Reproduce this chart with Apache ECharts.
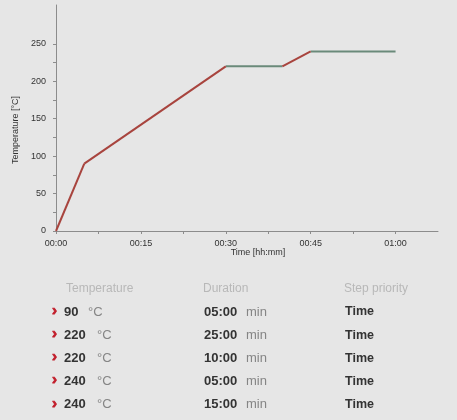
<!DOCTYPE html>
<html>
<head>
<meta charset="utf-8">
<script src="https://cdn.jsdelivr.net/npm/echarts@6/dist/echarts.min.js"></script>
<style>
html,body{margin:0;padding:0;background:#e6e6e6;}
#c{width:457px;height:420px;}
</style>
</head>
<body>
<div id="c"></div>
<script>
// Profile points (minutes, °C)
const times = [0, 5, 30, 40, 45, 60];
const temps = [0, 90, 220, 220, 240, 240];
// Axis ticks
const xTickValues = [0, 7.5, 15, 22.5, 30, 37.5, 45, 52.5, 60];
const xLabelValues = [0, 15, 30, 45, 60];
const xLabelTexts = ['00:00', '00:15', '00:30', '00:45', '01:00'];
const yTickValues = [0, 25, 50, 75, 100, 125, 150, 175, 200, 225, 250];
const yLabelValues = [0, 50, 100, 150, 200, 250];
// Step table
const headers = ['Temperature', 'Duration', 'Step priority'];
const stepTemps = ['90', '220', '220', '240', '240'];
const stepDurations = ['05:00', '25:00', '10:00', '05:00', '15:00'];
const stepPriority = ['Time', 'Time', 'Time', 'Time', 'Time'];

const RAMP = '#a8443e', HOLD = '#6a8a7a';
const FONT = '"Liberation Sans", Arial, sans-serif';

const series = [];
for (let i = 0; i < times.length - 1; i++) {
  const ramp = temps[i] !== temps[i + 1];
  series.push({
    type: 'line', symbol: 'none', animation: false,
    data: [[times[i], temps[i]], [times[i + 1], temps[i + 1]]],
    lineStyle: { color: ramp ? RAMP : HOLD, width: 2 },
    z: ramp ? 3 : 2
  });
}

const graphic = [];
const headerX = [66, 203, 344];
headers.forEach((h, i) => graphic.push({
  type: 'text', left: headerX[i], top: 283,
  style: { text: h, font: '12px ' + FONT, fill: '#b8b8b8' }
}));
const rowY0 = 312, rowStep = 23.1;
stepTemps.forEach((t, i) => {
  const y = rowY0 + i * rowStep;
  graphic.push({ type: 'text', x: 52, y: y - 1, style: { text: '›', font: 'bold 15px ' + FONT, fill: '#c21f2c', verticalAlign: 'middle', stroke: '#c21f2c', lineWidth: 0.8 } });
  graphic.push({ type: 'text', x: 64, y: y, style: { text: t, font: 'bold 13px ' + FONT, fill: '#333', verticalAlign: 'middle' } });
  graphic.push({ type: 'text', x: t.length > 2 ? 97 : 88, y: y, style: { text: '°C', font: '13px ' + FONT, fill: '#858585', verticalAlign: 'middle' } });
  graphic.push({ type: 'text', x: 204, y: y, style: { text: stepDurations[i], font: 'bold 13px ' + FONT, fill: '#333', verticalAlign: 'middle' } });
  graphic.push({ type: 'text', x: 246, y: y, style: { text: 'min', font: '13px ' + FONT, fill: '#858585', verticalAlign: 'middle' } });
  graphic.push({ type: 'text', x: 345, y: y, style: { text: stepPriority[i], font: 'bold 12.5px ' + FONT, fill: '#333', verticalAlign: 'middle' } });
});
graphic.push({ type: 'text', x: 258, y: 253, style: { text: 'Time [hh:mm]', font: '9px ' + FONT, fill: '#333', align: 'center', verticalAlign: 'middle' } });

const chart = echarts.init(document.getElementById('c'), null, { renderer: 'canvas' });
chart.setOption({
  backgroundColor: '#e6e6e6',
  animation: false,
  grid: { left: 56, right: 19, top: 5, bottom: 189, containLabel: false },
  xAxis: {
    type: 'value', min: 0, max: 67.5,
    axisLine: { lineStyle: { color: '#8c8c8c', width: 1 } },
    axisTick: { show: true, length: 3, customValues: xTickValues, lineStyle: { color: '#8c8c8c' } },
    axisLabel: {
      customValues: xLabelValues, margin: 8,
      formatter: v => xLabelTexts[xLabelValues.indexOf(v)] || '',
      fontSize: 9, fontFamily: FONT, color: '#333'
    },
    splitLine: { show: false }
  },
  yAxis: {
    type: 'value', min: 0, max: 302,
    name: 'Temperature [°C]', nameLocation: 'middle', nameGap: 35,
    nameTextStyle: { fontSize: 9, fontFamily: FONT, color: '#333', padding: [0, 0, 0, -24] },
    axisLine: { show: true, lineStyle: { color: '#8c8c8c', width: 1 } },
    axisTick: { show: true, length: 3, customValues: yTickValues, lineStyle: { color: '#8c8c8c' } },
    axisLabel: { customValues: yLabelValues, margin: 10, fontSize: 9, fontFamily: FONT, color: '#333' },
    splitLine: { show: false }
  },
  series: series,
  graphic: graphic
});
</script>
</body>
</html>
